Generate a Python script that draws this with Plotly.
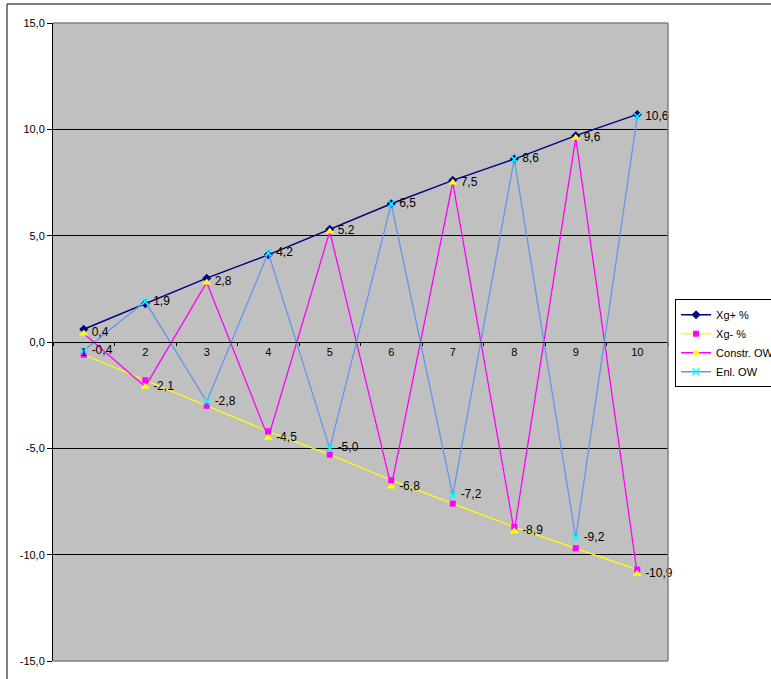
import plotly.graph_objects as go

categories = ["1", "2", "3", "4", "5", "6", "7", "8", "9", "10"]
xg_plus = [0.6, 1.8, 3.0, 4.1, 5.3, 6.5, 7.6, 8.6, 9.7, 10.7]
xg_minus = [-0.6, -1.8, -3.0, -4.2, -5.3, -6.5, -7.6, -8.7, -9.7, -10.7]
constr_ow = [0.4, -2.1, 2.8, -4.5, 5.2, -6.8, 7.5, -8.9, 9.6, -10.9]
enl_ow = [-0.4, 1.9, -2.8, 4.2, -5.0, 6.5, -7.2, 8.6, -9.2, 10.6]
y_tickvals = [-15, -10, -5, 0, 5, 10, 15]
y_ticktext = ["-15,0", "-10,0", "-5,0", "0,0", "5,0", "10,0", "15,0"]


def fmt(v):
    return f"{v:.1f}".replace(".", ",")


FONT = "Liberation Sans, Arial, sans-serif"

fig = go.Figure()
fig.add_trace(go.Scatter(x=categories, y=xg_plus, name="Xg+ %", mode="lines+markers",
                         line=dict(color="#000080", width=1.4),
                         marker=dict(symbol="diamond", size=7, color="#000080")))
fig.add_trace(go.Scatter(x=categories, y=xg_minus, name="Xg- %", mode="lines+markers",
                         line=dict(color="#FFFF00", width=1.3),
                         marker=dict(symbol="square", size=6, color="#FF00FF")))
fig.add_trace(go.Scatter(x=categories, y=constr_ow, name="Constr. OW", mode="lines+markers",
                         line=dict(color="#FF00FF", width=1.3),
                         marker=dict(symbol="triangle-up", size=8, color="#FFFF00")))
fig.add_trace(go.Scatter(x=categories, y=enl_ow, name="Enl. OW", mode="lines+markers",
                         line=dict(color="#6495ED", width=1.3),
                         marker=dict(symbol="x-thin", size=7, color="#00FFFF",
                                     line=dict(color="#00FFFF", width=1.5))))

for vals in (constr_ow, enl_ow):
    fig.add_trace(go.Scatter(x=categories, y=vals, mode="markers+text",
                             text=[fmt(v) for v in vals], textposition="middle right",
                             textfont=dict(family=FONT, size=12, color="black"),
                             marker=dict(size=11, color="rgba(0,0,0,0)"),
                             cliponaxis=False,
                             showlegend=False, hoverinfo="skip"))

shapes = [
    dict(type="line", xref="paper", yref="paper", x0=0, x1=1, y0=1, y1=1,
         line=dict(color="#808080", width=1.5), layer="above"),
    dict(type="line", xref="paper", yref="paper", x0=1, x1=1, y0=0, y1=1,
         line=dict(color="#808080", width=1.5), layer="above"),
    dict(type="line", xref="paper", yref="paper", x0=0, x1=1, y0=0, y1=0,
         line=dict(color="#808080", width=1.5), layer="above"),
    dict(type="rect", xref="paper", yref="paper", x0=-0.0748, x1=2, y0=-0.2, y1=1.0298,
         line=dict(color="black", width=1), layer="below"),
]

fig.update_layout(
    width=771, height=679,
    margin=dict(l=53, r=103, t=23, b=18, autoexpand=False),
    paper_bgcolor="white", plot_bgcolor="#C0C0C0",
    font=dict(family=FONT, size=11, color="black"),
    showlegend=True,
    legend=dict(x=1.0115, y=0.567, xanchor="left", yanchor="top",
                bgcolor="white", bordercolor="black", borderwidth=1,
                font=dict(family=FONT, size=11, color="black"),
                tracegroupgap=0, itemwidth=30),
    shapes=shapes,
    xaxis=dict(type="category", range=[-0.5, 9.5], autorange=False,
               anchor="free", position=0.5,
               showline=True, linecolor="black", linewidth=1,
               ticks="outside", ticklen=3, tickcolor="black", tickson="boundaries",
               showgrid=False, zeroline=False,
               tickfont=dict(family=FONT, size=11, color="black")),
    yaxis=dict(range=[-15, 15], autorange=False, tickvals=y_tickvals, ticktext=y_ticktext,
               showline=True, linecolor="black", linewidth=1,
               ticks="outside", ticklen=5, tickcolor="black",
               showgrid=True, gridcolor="black", gridwidth=1, zeroline=False,
               tickfont=dict(family=FONT, size=11, color="black")),
)

fig.write_html("out.html", config={"displayModeBar": False},
               post_script="document.body.style.margin='0';")
